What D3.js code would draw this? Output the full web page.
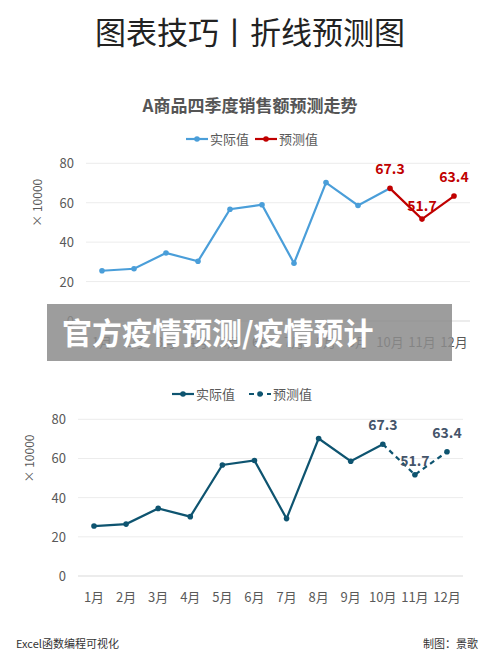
<!DOCTYPE html>
<html><head><meta charset="utf-8">
<script src="https://cdn.jsdelivr.net/npm/d3@7"></script>
<style>body{margin:0;background:#fff}svg{font-family:"Noto Sans CJK SC","Noto Sans",sans-serif}</style>
</head><body><svg id="c" width="500" height="666"></svg>
<script>
const months = ['1月','2月','3月','4月','5月','6月','7月','8月','9月','10月','11月','12月'];
const actual = [25.5, 26.5, 34.5, 30.3, 56.7, 59.0, 29.3, 70.2, 58.6, 67.3];
const forecast = [67.3, 51.7, 63.4]; // 10月..12月
const yTicks = [0, 20, 40, 60, 80];

const svg = d3.select('#c');
svg.append('text').attr('x', 250).attr('y', 44).attr('text-anchor', 'middle')
  .attr('font-size', 31).attr('fill', '#222').text('图表技巧丨折线预测图');

function chart(o) {
  const g = svg.append('g');
  const x = d3.scalePoint().domain(months).range([o.x0, o.x1]);
  const y = d3.scaleLinear().domain([0, 80]).range([o.y0, o.y80]);
  if (o.title) g.append('text').attr('x', 250).attr('y', o.titleY).attr('text-anchor', 'middle')
    .attr('font-size', 17).attr('font-weight', 'bold').attr('fill', '#555').text(o.title);
  g.selectAll('.grid').data(yTicks).join('line')
    .attr('x1', o.gl).attr('x2', o.gr).attr('y1', y).attr('y2', y)
    .attr('stroke', d => d === 0 ? '#d9d9d9' : '#ececec');
  g.selectAll('.yt').data(yTicks).join('text')
    .attr('x', o.gl - 12).attr('y', d => y(d) + 5).attr('text-anchor', 'end')
    .attr('font-size', 13).attr('fill', '#595959').text(d => d);
  g.append('text').attr('transform', `translate(${o.labX},${(y(80) + y(40)) / 2}) rotate(-90)`)
    .attr('text-anchor', 'middle').attr('font-size', 12).attr('fill', '#595959').text('× 10000');
  g.selectAll('.xt').data(months).join('text')
    .attr('x', d => x(d)).attr('y', y(0) + 26).attr('text-anchor', 'middle')
    .attr('font-size', 13).attr('fill', '#595959').text(d => d);
  const line = d3.line().x(d => x(d[0])).y(d => y(d[1]));
  const aPts = actual.map((v, i) => [months[i], v]);
  const fPts = forecast.map((v, i) => [months[i + 9], v]);
  g.append('path').attr('d', line(aPts)).attr('fill', 'none').attr('stroke', o.c1).attr('stroke-width', 2.2);
  g.append('path').attr('d', line(fPts)).attr('fill', 'none').attr('stroke', o.c2).attr('stroke-width', 2.2)
    .attr('stroke-dasharray', o.dash || null);
  g.selectAll('.pa').data(aPts.slice(0, 9)).join('circle').attr('cx', d => x(d[0])).attr('cy', d => y(d[1])).attr('r', 2.8).attr('fill', o.c1);
  g.selectAll('.pf').data(fPts).join('circle').attr('cx', d => x(d[0])).attr('cy', d => y(d[1])).attr('r', 2.8).attr('fill', o.c2);
  g.selectAll('.lb').data(fPts).join('text')
    .attr('x', d => x(d[0])).attr('y', (d, i) => i === 1 ? y(60) + 8 : y(d[1]) - 14)
    .attr('text-anchor', 'middle').attr('font-size', 14).attr('font-weight', 'bold').attr('fill', o.lc)
    .text(d => d[1].toFixed(1));
  // legend
  const lg = g.append('g').attr('transform', `translate(0,${o.legY})`);
  [[o.lx1, o.c1, null, '实际值'], [o.lx2, o.c2, o.dash, '预测值']].forEach(([lx, c, da, t]) => {
    lg.append('line').attr('x1', lx).attr('x2', lx + 22).attr('stroke', c).attr('stroke-width', 2.2).attr('stroke-dasharray', da);
    lg.append('circle').attr('cx', lx + 11).attr('r', 2.8).attr('fill', c);
    lg.append('text').attr('x', lx + 24).attr('y', 5).attr('font-size', 13).attr('fill', '#595959').text(t);
  });
}

chart({x0: 102, x1: 454, y0: 321, y80: 163.3, gl: 86, gr: 470, labX: 42,
  c1: '#4a9ed9', c2: '#c00000', lc: '#c00000', title: 'A商品四季度销售额预测走势', titleY: 112,
  legY: 139, lx1: 186, lx2: 255});
chart({x0: 94, x1: 447, y0: 576, y80: 419.3, gl: 78, gr: 463, labX: 34,
  c1: '#0e5470', c2: '#0e5470', lc: '#44546a', dash: '5,4', legY: 394, lx1: 172, lx2: 249});

// overlay banner
svg.append('rect').attr('x', 47).attr('y', 304).attr('width', 405).attr('height', 57).attr('fill', '#8c8c8c').attr('opacity', 0.85);
svg.append('text').attr('x', 62).attr('y', 344).attr('font-size', 30).attr('font-weight', 'bold')
  .attr('fill', '#fff').text('官方疫情预测/疫情预计');

svg.append('text').attr('x', 16).attr('y', 648).attr('font-size', 11).attr('fill', '#333').text('Excel函数编程可视化');
svg.append('text').attr('x', 478).attr('y', 648).attr('text-anchor', 'end').attr('font-size', 11).attr('fill', '#333').text('制图：景歌');
</script></body></html>
